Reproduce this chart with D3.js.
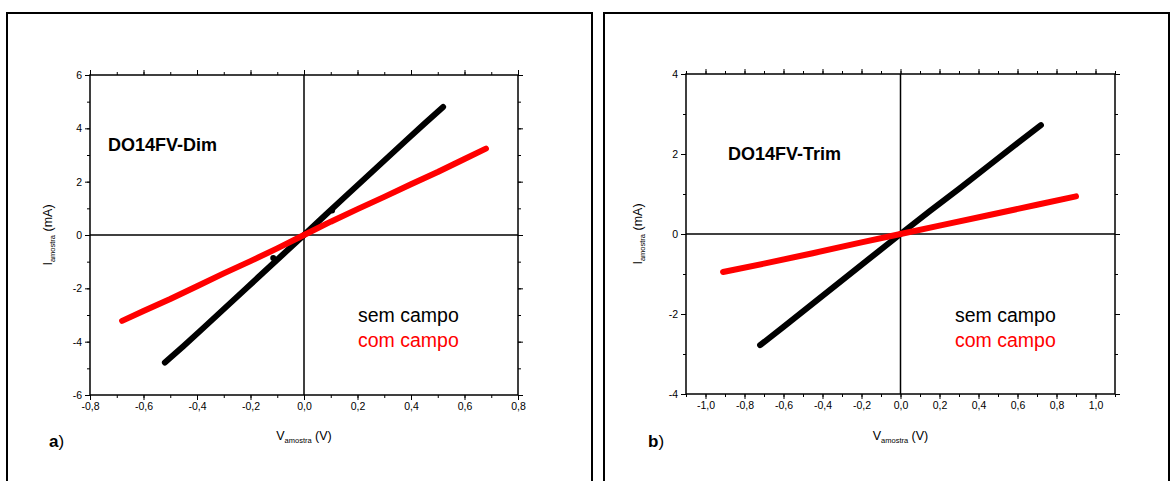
<!DOCTYPE html>
<html><head><meta charset="utf-8">
<script src="https://cdn.jsdelivr.net/npm/d3@7"></script>
<style>body{margin:0;background:#fff;}svg{display:block;font-family:"Liberation Sans",Arial,sans-serif;}</style>
</head><body><svg id="c" width="1172" height="481"></svg>
<script>
// Panel a) DO14FV-Dim
const dimSemV = [-0.52,-0.45,-0.38,-0.30,-0.22,-0.15,-0.08,0.0,0.08,0.15,0.22,0.30,0.38,0.45,0.52];
const dimSemI = [-4.78,-4.16,-3.52,-2.78,-2.04,-1.39,-0.74,0.0,0.75,1.40,2.05,2.79,3.53,4.17,4.80];
const dimComV = [-0.68,-0.60,-0.50,-0.40,-0.30,-0.20,-0.10,0.0,0.10,0.20,0.30,0.40,0.50,0.60,0.68];
const dimComI = [-3.22,-2.85,-2.40,-1.92,-1.44,-0.98,-0.50,0.0,0.50,0.97,1.43,1.90,2.36,2.85,3.24];
// small stray points on the black curve (panel a)
const dimSpikeV = [-0.115, 0.105];
const dimSpikeI = [-0.86, 0.92];
// Panel b) DO14FV-Trim
const trimSemV = [-0.72,-0.60,-0.45,-0.30,-0.15,0.0,0.15,0.30,0.45,0.60,0.72];
const trimSemI = [-2.78,-2.32,-1.74,-1.16,-0.58,0.0,0.57,1.13,1.70,2.27,2.72];
const trimComV = [-0.91,-0.70,-0.45,-0.20,0.0,0.20,0.45,0.70,0.90];
const trimComI = [-0.95,-0.74,-0.48,-0.21,0.0,0.21,0.47,0.73,0.94];
// Axis tick values
const dimXMajor = [-0.8,-0.6,-0.4,-0.2,0,0.2,0.4,0.6,0.8];
const dimYMajor = [-6,-4,-2,0,2,4,6];
const trimXMajor = [-1.0,-0.8,-0.6,-0.4,-0.2,0,0.2,0.4,0.6,0.8,1.0];
const trimYMajor = [-4,-2,0,2,4];
const legendLabels = ["sem campo","com campo"];
const seriesColors = ["#000000","#ff0000"];

const svg = d3.select("#c");
const fmt = v => (Math.abs(v)<1e-9 ? "0,0" : d3.format(".1f")(v).replace(".",",").replace("−","-"));
const fmtY = v => String(v);

function panel(o){
  const g = svg.append("g");
  g.append("path").attr("d",`M${o.fx0},490 V13 H${o.fx1} V490`).attr("fill","none").attr("stroke","#000").attr("stroke-width",2);
  const x = d3.scaleLinear().domain(o.xd).range([o.x0,o.x1]);
  const y = d3.scaleLinear().domain(o.yd).range([o.y1,o.y0]);
  const xMinor = d3.range(Math.round(o.xd[0]*10), Math.round(o.xd[1]*10)+1).map(v=>v/10);
  const yMinor = d3.range(o.yd[0], o.yd[1]+1, 1);
  const axStyle = sel => { sel.select(".domain").remove(); sel.selectAll("line").attr("stroke","#000").attr("stroke-width",1); sel.selectAll("text").attr("font-size",10.5).attr("fill","#000").attr("font-family","'Liberation Sans',Arial,sans-serif"); };
  g.append("g").attr("transform",`translate(0,${o.y1})`).call(d3.axisBottom(x).tickValues(xMinor).tickSize(3).tickFormat("")).call(axStyle);
  g.append("g").attr("transform",`translate(0,${o.y0})`).call(d3.axisTop(x).tickValues(xMinor).tickSize(3).tickFormat("")).call(axStyle);
  g.append("g").attr("transform",`translate(${o.x0},0)`).call(d3.axisLeft(y).tickValues(yMinor).tickSize(3).tickFormat("")).call(axStyle);
  g.append("g").attr("transform",`translate(${o.x1},0)`).call(d3.axisRight(y).tickValues(yMinor).tickSize(3).tickFormat("")).call(axStyle);
  g.append("g").attr("transform",`translate(0,${o.y1})`).call(d3.axisBottom(x).tickValues(o.xMajor).tickSize(5).tickPadding(3).tickFormat(fmt)).call(axStyle);
  g.append("g").attr("transform",`translate(0,${o.y0})`).call(d3.axisTop(x).tickValues(o.xMajor).tickSize(5).tickFormat("")).call(axStyle);
  g.append("g").attr("transform",`translate(${o.x0},0)`).call(d3.axisLeft(y).tickValues(o.yMajor).tickSize(5).tickPadding(3).tickFormat(fmtY)).call(axStyle);
  g.append("g").attr("transform",`translate(${o.x1},0)`).call(d3.axisRight(y).tickValues(o.yMajor).tickSize(5).tickFormat("")).call(axStyle);
  g.append("rect").attr("x",o.x0).attr("y",o.y0).attr("width",o.x1-o.x0).attr("height",o.y1-o.y0).attr("fill","none").attr("stroke","#000").attr("stroke-width",1.5);
  g.append("line").attr("x1",x(0)).attr("x2",x(0)).attr("y1",o.y0).attr("y2",o.y1).attr("stroke","#000").attr("stroke-width",1.5);
  g.append("line").attr("x1",o.x0).attr("x2",o.x1).attr("y1",y(0)).attr("y2",y(0)).attr("stroke","#000").attr("stroke-width",1.5);
  const line = d3.line().x(d=>x(d[0])).y(d=>y(d[1]));
  o.series.forEach((s,i)=>{
    g.append("path").datum(d3.zip(s[0],s[1])).attr("d",line).attr("fill","none")
      .attr("stroke",seriesColors[i]).attr("stroke-width",6).attr("stroke-linecap","round").attr("stroke-linejoin","round");
  });
  if (o.spikes) {
    g.selectAll(null).data(d3.zip(o.spikes[0],o.spikes[1])).join("circle")
      .attr("cx",d=>x(d[0])).attr("cy",d=>y(d[1])).attr("r",3).attr("fill","#000");
  }
  g.append("text").attr("x",o.nameX).attr("y",o.nameY).attr("font-size",18).attr("font-weight","bold").text(o.name);
  legendLabels.forEach((t,i)=>{
    g.append("text").attr("x",o.legX).attr("y",o.legY+i*25).attr("font-size",19.5).attr("fill",seriesColors[i]).text(t);
  });
  const xt = g.append("text").attr("x",x(0)).attr("y",440).attr("text-anchor","middle").attr("font-size",12.5);
  xt.append("tspan").text("V");
  xt.append("tspan").attr("font-size",7.5).attr("dy",3).text("amostra");
  xt.append("tspan").attr("dy",-3).text(" (V)");
  const yt = g.append("text").attr("transform",`translate(${o.ytX},${y(0)}) rotate(-90)`).attr("text-anchor","middle").attr("font-size",12.5);
  yt.append("tspan").text("I");
  yt.append("tspan").attr("font-size",7.5).attr("dy",3).text("amostra");
  yt.append("tspan").attr("dy",-3).text(" (mA)");
  const pl = g.append("text").attr("x",o.letX).attr("y",447).attr("font-size",17);
  pl.append("tspan").attr("font-weight","bold").text(o.letter);
  pl.append("tspan").text(")");
}

panel({fx0:7,fx1:592,x0:90,x1:518,y0:75,y1:395,xd:[-0.8,0.8],yd:[-6,6],xMajor:dimXMajor,yMajor:dimYMajor,
  series:[[dimSemV,dimSemI],[dimComV,dimComI]],spikes:[dimSpikeV,dimSpikeI],name:"DO14FV-Dim",nameX:108,nameY:151,legX:358,legY:322,ytX:52,letX:49,letter:"a"});
panel({fx0:604,fx1:1169,x0:686,x1:1115,y0:74,y1:394,xd:[-1.1,1.1],yd:[-4,4],xMajor:trimXMajor,yMajor:trimYMajor,
  series:[[trimSemV,trimSemI],[trimComV,trimComI]],name:"DO14FV-Trim",nameX:728,nameY:160,legX:955,legY:322,ytX:642,letX:648,letter:"b"});
</script></body></html>
